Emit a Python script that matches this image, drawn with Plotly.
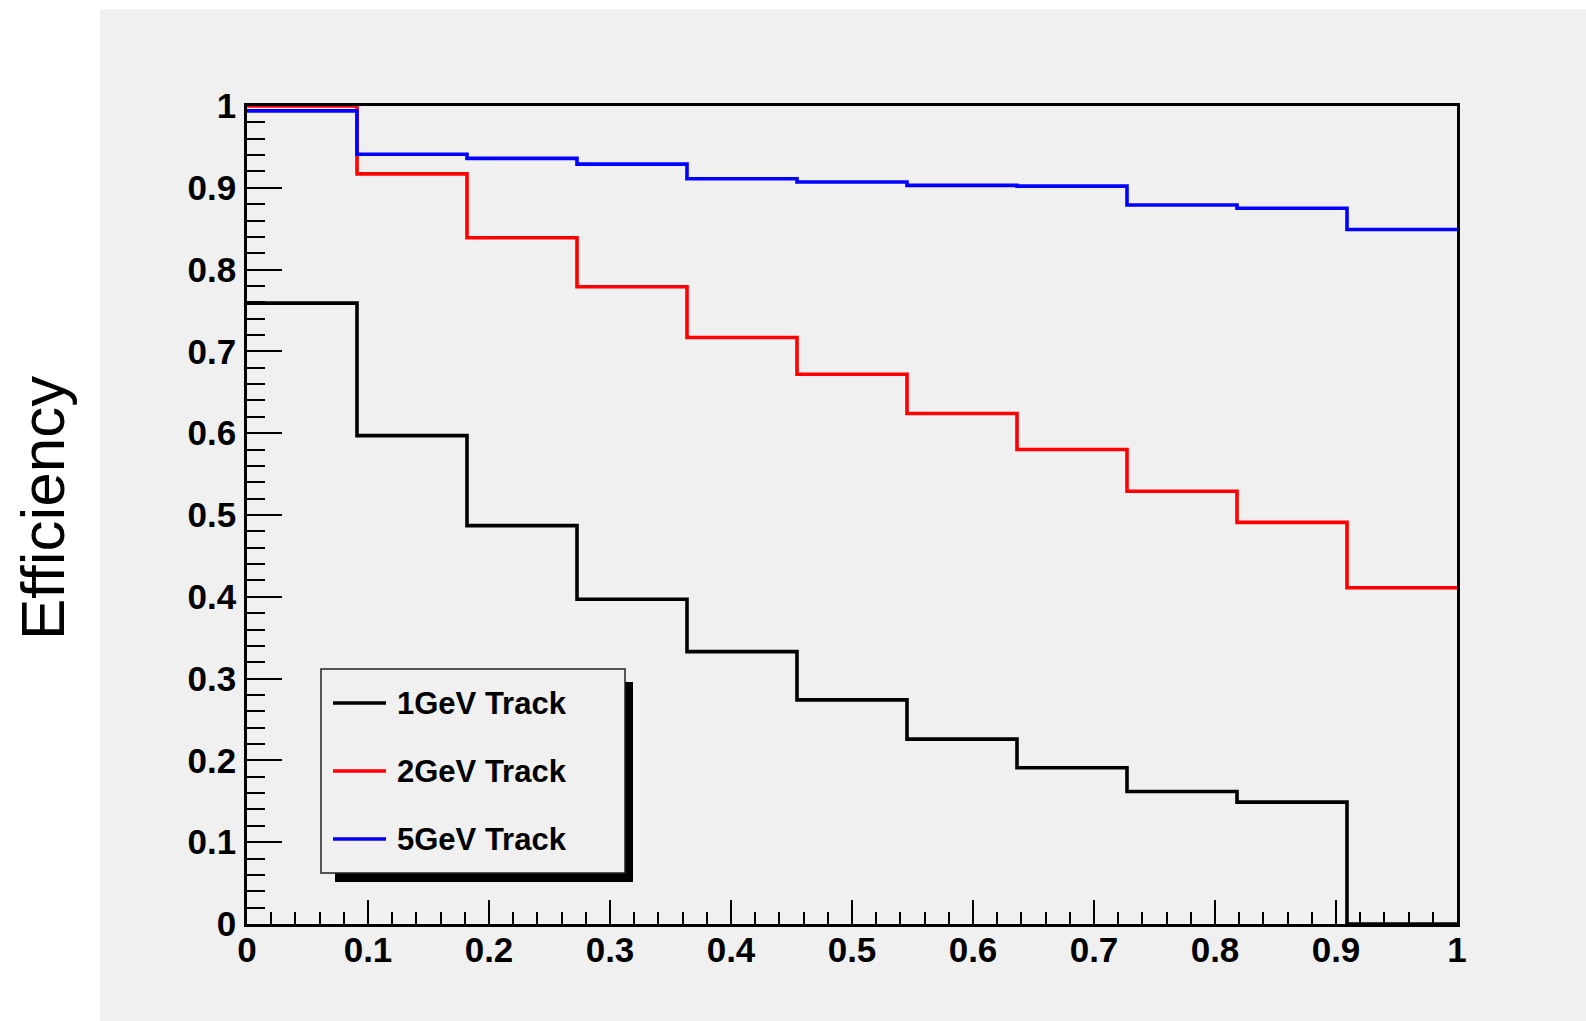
import plotly.graph_objects as go

# Bin edges: 11 equal bins on [0, 1]
n_bins = 11
bin_edges = [i / n_bins for i in range(n_bins + 1)]

# Efficiency per bin for each track momentum
eff_1gev = [0.759, 0.597, 0.487, 0.397, 0.333, 0.274, 0.226, 0.191, 0.162, 0.149, 0.0]
eff_2gev = [1.000, 0.917, 0.839, 0.779, 0.717, 0.672, 0.624, 0.580, 0.529, 0.491, 0.411]
eff_5gev = [0.994, 0.941, 0.936, 0.929, 0.911, 0.907, 0.903, 0.902, 0.879, 0.875, 0.849]

series_names = ["1GeV Track", "2GeV Track", "5GeV Track"]
series_colors = ["#000000", "#ff0000", "#0000ff"]

x_ticks = [0, 0.1, 0.2, 0.3, 0.4, 0.5, 0.6, 0.7, 0.8, 0.9, 1]
x_tick_text = ["0", "0.1", "0.2", "0.3", "0.4", "0.5", "0.6", "0.7", "0.8", "0.9", "1"]
y_ticks = [0, 0.1, 0.2, 0.3, 0.4, 0.5, 0.6, 0.7, 0.8, 0.9, 1]
y_tick_text = ["0", "0.1", "0.2", "0.3", "0.4", "0.5", "0.6", "0.7", "0.8", "0.9", "1"]

W, H = 1586, 1021
L, R, T, B = 247, 129, 106, 97
PW, PH = W - L - R, H - T - B
BG = "#f0f0f0"
FONT = "Liberation Sans"


def px_x(p):
    return (p - L) / PW


def px_y(p):
    return (H - B - p) / PH


fig = go.Figure()
for vals, name, col in zip([eff_1gev, eff_2gev, eff_5gev], series_names, series_colors):
    fig.add_trace(go.Scatter(
        x=bin_edges,
        y=vals + [vals[-1]],
        mode="lines",
        line=dict(color=col, width=3.6, shape="hv"),
        name=name,
        showlegend=False,
        cliponaxis=False,
        hoverinfo="skip",
    ))

shapes = [
    # grey canvas pad
    dict(type="rect", xref="paper", yref="paper", layer="below",
         x0=px_x(100), x1=px_x(W + 5), y0=px_y(H + 5), y1=px_y(9),
         fillcolor=BG, line=dict(width=0)),
]

# legend box with drop shadow
shapes.append(dict(type="rect", xref="paper", yref="paper",
                   x0=px_x(335), x1=px_x(633), y0=px_y(882), y1=px_y(682),
                   fillcolor="#000000", line=dict(width=0)))
shapes.append(dict(type="rect", xref="paper", yref="paper",
                   x0=px_x(321), x1=px_x(625), y0=px_y(873), y1=px_y(669),
                   fillcolor=BG, line=dict(color="#222222", width=1.5)))

annotations = []
legend_rows = [703, 771, 839]
for yy, name, col in zip(legend_rows, series_names, series_colors):
    shapes.append(dict(type="line", xref="paper", yref="paper",
                       x0=px_x(333), x1=px_x(386), y0=px_y(yy), y1=px_y(yy),
                       line=dict(color=col, width=3.5)))
    annotations.append(dict(xref="paper", yref="paper", x=px_x(395), y=px_y(yy),
                            xanchor="left", yanchor="middle", showarrow=False,
                            text=name,
                            font=dict(family=FONT, size=31, color="black", weight="bold")))

annotations.append(dict(xref="paper", yref="paper", x=px_x(42), y=px_y(508),
                        xanchor="center", yanchor="middle", showarrow=False,
                        text="Efficiency", textangle=-90,
                        font=dict(family=FONT, size=62, color="black")))

axis_common = dict(
    range=[0, 1],
    showgrid=False,
    zeroline=False,
    showline=True,
    linecolor="black",
    mirror=True,
    ticks="inside",
    tickcolor="black",
    tickwidth=2,
    tickfont=dict(family=FONT, size=35, color="black", weight="bold"),
)

fig.update_layout(
    width=W, height=H,
    margin=dict(l=L, r=R, t=T, b=B, pad=0),
    paper_bgcolor="white",
    plot_bgcolor="rgba(0,0,0,0)",
    shapes=shapes,
    annotations=annotations,
    xaxis=dict(**axis_common, linewidth=3, ticklen=24,
               tickvals=x_ticks, ticktext=x_tick_text, ticklabelstandoff=-7,
               minor=dict(dtick=0.02, tick0=0, ticklen=12, tickwidth=2,
                          ticks="inside", tickcolor="black")),
    yaxis=dict(**axis_common, linewidth=2.5, ticklen=35,
               tickvals=y_ticks, ticktext=y_tick_text, ticklabelstandoff=1,
               minor=dict(dtick=0.02, tick0=0, ticklen=18, tickwidth=2,
                          ticks="inside", tickcolor="black")),
)

fig.write_html("out.html")
